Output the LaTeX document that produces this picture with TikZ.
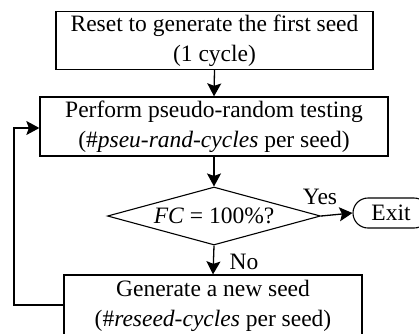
\documentclass[tikz,border=0pt]{standalone}
\usepackage{fontspec}
\setmainfont{Liberation Serif}
\usetikzlibrary{arrows.meta,shapes.geometric}
\begin{document}
\begin{tikzpicture}[x=1pt,y=-1pt,
  every node/.style={font=\fontsize{23.5}{30}\selectfont},
  box/.style={draw,line width=1.3pt,rectangle,inner sep=0pt,align=center},
  dec/.style={draw,line width=1.1pt,diamond,aspect=3.67,inner sep=0pt},
  term/.style={draw,line width=1.1pt,rectangle,rounded corners=15pt,inner sep=0pt},
  conn/.style={line width=1.3pt,-{Stealth[length=13pt,width=14pt,inset=2.5pt]}},
  lab/.style={inner sep=0pt}]
\useasboundingbox (0,0) rectangle (419,333);
\clip (0,0) rectangle (419,333);
\node[box,minimum width=317pt,minimum height=58pt] (b1) at (214.5,40.5)
  {Reset to generate the first seed\\(1 cycle)};
\node[box,minimum width=348pt,minimum height=59pt] (b2) at (214,126.5)
  {Perform pseudo-random testing\\(\#\textit{pseu-rand-cycles} per seed)};
\node[dec,minimum width=213pt,minimum height=58pt] (d) at (214,216)
  {\textit{FC} = 100\%?};
\node[term,minimum width=76pt,minimum height=30pt] (ex) at (391,213) {Exit};
\node[box,minimum width=298pt,minimum height=61pt] (b3) at (213,305.5)
  {Generate a new seed\\(\#\textit{reseed-cycles} per seed)};
\coordinate (c1) at (14,305);
\coordinate (c2) at (14,128);
\draw[conn] (b1.south) -- (b2.north);
\draw[conn] (b2.south) -- (d.north);
\draw[conn] (d.east) -- (ex.west);
\draw[conn] (d.south) -- (b3.north);
\draw[conn] (b3.west |- c1) -- (c1) -- (c2) -- (b2.west |- c2);
\node[lab] (yes) at (320,197) {Yes};
\node[lab] (no) at (244,262) {No};
\end{tikzpicture}
\end{document}
